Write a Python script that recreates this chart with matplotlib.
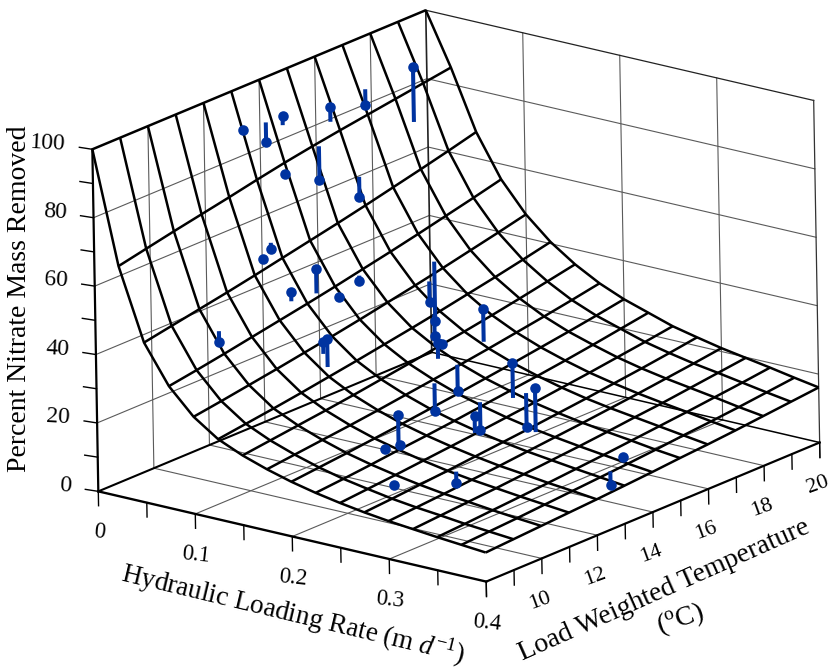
import numpy as np
import matplotlib
matplotlib.use('Agg')
import matplotlib.pyplot as plt
from mpl_toolkits.mplot3d import proj3d

plt.rcParams['font.family'] = ['Liberation Serif', 'DejaVu Serif']
plt.rcParams['mathtext.fontset'] = 'custom'
plt.rcParams['mathtext.rm'] = 'Liberation Serif'
plt.rcParams['mathtext.it'] = 'Liberation Serif:italic'

loading_rate = [0, 0.025, 0.05, 0.075, 0.1, 0.125, 0.15, 0.175, 0.2,
                0.225, 0.25, 0.275, 0.3, 0.325, 0.35, 0.375, 0.4]
temperature = [8, 9, 10, 11, 12, 13, 14, 15, 16, 17, 18, 19, 20]
removal = [
    [100, 100, 100, 100, 100, 100, 100, 100, 100, 100, 100, 100, 100],
    [67.5, 69.2, 70.9, 72.5, 74.1, 75.8, 77.4, 78.8, 80.1, 81.3, 82.5, 83.7, 84.9],
    [46.8, 48.3, 49.8, 51.3, 52.9, 54.6, 56.3, 58, 59.8, 61.7, 63.6, 65.6, 67.7],
    [35.7, 37.0, 38.4, 39.9, 41.4, 42.9, 44.5, 46.2, 47.9, 49.7, 51.6, 53.5, 55.5],
    [28.4, 29.6, 30.9, 32.2, 33.6, 35.0, 36.5, 38.1, 39.7, 41.4, 43.2, 45.0, 46.9],
    [23.5, 24.6, 25.7, 26.9, 28.2, 29.5, 30.9, 32.3, 33.8, 35.4, 37.0, 38.7, 40.5],
    [20.4, 21.4, 22.4, 23.4, 24.5, 25.7, 26.9, 28.2, 29.5, 30.9, 32.4, 34.0, 35.6],
    [18, 18.9, 19.8, 20.7, 21.7, 22.8, 23.9, 25, 26.2, 27.5, 28.8, 30.2, 31.7],
    [16, 16.8, 17.6, 18.5, 19.4, 20.4, 21.4, 22.5, 23.6, 24.8, 26, 27.3, 28.7],
    [14.4, 15.1, 15.9, 16.8, 17.6, 18.5, 19.5, 20.5, 21.5, 22.6, 23.8, 25.1, 26.4],
    [13.1, 13.8, 14.5, 15.3, 16.1, 16.9, 17.8, 18.7, 19.7, 20.7, 21.8, 22.9, 24.1],
    [12, 12.6, 13.3, 14, 14.8, 15.6, 16.4, 17.3, 18.2, 19.2, 20.2, 21.3, 22.5],
    [11.1, 11.7, 12.3, 13, 13.7, 14.5, 15.3, 16.1, 17, 17.9, 18.9, 19.9, 21],
    [10.4, 11, 11.6, 12.2, 12.9, 13.6, 14.3, 15.1, 16, 16.8, 17.8, 18.8, 19.8],
    [9.7, 10.2, 10.8, 11.4, 12, 12.7, 13.4, 14.2, 15, 15.8, 16.7, 17.6, 18.6],
    [9.1, 9.6, 10.1, 10.7, 11.3, 11.9, 12.5, 13.2, 14, 14.7, 15.5, 16.4, 17.3],
    [8.5, 9, 9.5, 10, 10.5, 11.1, 11.7, 12.4, 13, 13.7, 14.5, 15.3, 16.1],
]

# observations: circle = measured, stem runs to the fitted surface
obs_rate = [0.011, 0.012, 0.015, 0.021, 0.017, 0.035, 0.028, 0.026, 0.041, 0.047, 0.044, 0.073, 0.07,
            0.082, 0.077, 0.103, 0.094, 0.125, 0.16, 0.15, 0.167, 0.064, 0.108, 0.118, 0.219, 0.22,
            0.216, 0.26, 0.234, 0.283, 0.236, 0.174, 0.179, 0.249, 0.22, 0.281, 0.374, 0.364]
obs_temp = [13.0, 13.8, 14.3, 15.8, 17.2, 18.3, 13.9, 15.2, 16.1, 12.4, 12.8, 13.4, 12.6, 13.9, 14.8,
            16.4, 16.9, 15.8, 14.7, 15.2, 16.1, 10.2, 12.4, 12.2, 11.2, 11.2, 10.8, 9.6, 14.8, 13.9,
            15.2, 14.9, 13.9, 12.9, 14.1, 11.1, 13.4, 14.2]
obs_fit = [89.4, 89.0, 86.7, 83.0, 87.5, 75.4, 74.7, 78.2, 67.2, 56.1, 59.3, 44.4, 44.6, 42.1, 45.1,
           39.7, 43.2, 33.5, 26.6, 28.5, 27.3, 43.6, 32.4, 29.9, 17.3, 17.3, 17.2, 13.7, 19.7, 16.0,
           19.9, 25.1, 23.4, 16.9, 19.9, 13.8, 12.2, 13.1]
obs_removal = [89.4, 83.4, 89.4, 87.2, 82.8, 91.5, 74.7, 68.3, 61.2, 56.1, 57.4, 51.4, 47.3, 42.1, 43.6,
               33.8, 25.8, 27.1, 31.1, 28.5, 36.9, 40.4, 35.8, 38.0, 25.8, 17.3, 17.2, 13.7, 29.8, 28.8,
               10.0, 17.5, 15.2, 21.9, 11.7, 10.6, 8.1, 13.1]

rate_ticks = [0, 0.05, 0.1, 0.15, 0.2, 0.25, 0.3, 0.35, 0.4]
rate_labels = ['0', '0.1', '0.2', '0.3', '0.4']
temp_ticks = [8, 9, 10, 11, 12, 13, 14, 15, 16, 17, 18, 19, 20]
temp_labels = [10, 12, 14, 16, 18, 20]
z_labels = [0, 20, 40, 60, 80, 100]
z_ticks = [0, 10, 20, 30, 40, 50, 60, 70, 80, 90, 100]

fig = plt.figure(figsize=(8.3, 6.69), dpi=100)
ax = fig.add_axes([49.6 / 830, -33.3 / 669, 791.4 / 830, 791.4 / 669],
                  projection='3d', proj_type='ortho', computed_zorder=False)
ax.set_box_aspect((493.4, 539.2, 360.4))
ax.view_init(elev=18.4, azim=-51.5, roll=1.0)
ax.set_xlim(0, 0.4, view_margin=0)
ax.set_ylim(8, 20, view_margin=0)
ax.set_zlim(0, 100, view_margin=0)
ax.set_xticks([])
ax.set_yticks([])
ax.set_zticks([])
ax.set_axis_off()

wall = dict(color='#5a5a5a', lw=0.8, zorder=1)
# floor grid
for r in [0.1, 0.2, 0.3]:
    ax.plot([r, r], [8, 20], [0, 0], **wall)
    ax.plot([r, r], [20, 20], [0, 100], **wall)
for t in [10, 12, 14, 16, 18]:
    ax.plot([0, 0.4], [t, t], [0, 0], **wall)
    ax.plot([0, 0], [t, t], [0, 100], **wall)
# wall grid
for z in [20, 40, 60, 80]:
    ax.plot([0, 0], [8, 20], [z, z], **wall)
    ax.plot([0, 0.4], [20, 20], [z, z], **wall)
ax.plot([0, 0.4], [20, 20], [100, 100], color='#222222', lw=0.9, zorder=1)
ax.plot([0.4, 0.4], [20, 20], [-4.4, 100], color='#333333', lw=0.9, zorder=1)
ax.plot([0, 0], [20, 20], [0, 100], color='#222222', lw=1.2, zorder=1)

# floor outline and z axis
ax.plot([0, 0.4], [8, 8], [0, 0], color='k', lw=1.7, zorder=2)
ax.plot([0.4, 0.4], [8, 20], [0, 0], color='k', lw=1.6, zorder=2)
ax.plot([0, 0], [8, 20], [0, 0], color='k', lw=1.5, zorder=2)
ax.plot([0, 0.4], [20, 20], [0, 0], color='k', lw=1.1, zorder=2)
ax.plot([0, 0], [8, 8], [0, 100], color='k', lw=1.6, zorder=2)

# ticks
for r in rate_ticks:
    ax.plot([r, r], [8, 8], [0, -4.2], color='k', lw=1.0, zorder=2)
for t in temp_ticks:
    ax.plot([0.4, 0.4], [t, t], [0, -4.4], color='k', lw=1.0, zorder=2)
for z in z_ticks:
    ax.plot([0, -0.0118], [8, 7.944], [z, z], color='k', lw=1.0, zorder=2)

# fitted surface
R, T = np.meshgrid(loading_rate, temperature, indexing='ij')
ax.plot_wireframe(R, T, np.array(removal), rstride=1, cstride=1, color='k', lw=1.8, zorder=3)

# observations
blue = '#0033a0'
for r, t, f, m in zip(obs_rate, obs_temp, obs_fit, obs_removal):
    if f != m:
        ax.plot([r, r], [t, t], [f, m], color=blue, lw=2.9, solid_capstyle='butt', zorder=4)
ax.plot(obs_rate, obs_temp, obs_removal, 'o', color=blue, ms=7.6, mec='none', zorder=5)


def label3d(x, y, z, s, **kw):
    # text2D so the rotation is kept, placed at the projected 3d point
    px, py, _ = proj3d.proj_transform(x, y, z, ax.get_proj())
    ax.text2D(px, py, s, transform=ax.transData, va='center', rotation_mode='anchor', **kw)


for i, s in enumerate(rate_labels):
    label3d(i * 0.1, 8, -12, s, ha='center', rotation=-6, fontsize=16.5)
for t in temp_labels:
    label3d(0.4, t - 0.1, -12, str(t), ha='center', rotation=20, fontsize=16)
for z in z_labels:
    label3d(-0.0258, 7.93, z, str(z), ha='right', rotation=-3, fontsize=17)

# axis titles
fig.text(20 / 830, 1 - 299 / 669, 'Percent Nitrate Mass Removed', fontsize=20,
         rotation=90, ha='center', va='center')
fig.text(293 / 830, 1 - 614 / 669, 'Hydraulic Loading Rate (m $\\mathit{d}^{\\mathit{-1}}$)', fontsize=19.5,
         rotation=-13.5, ha='center', va='center', rotation_mode='anchor')
fig.text(664 / 830, 1 - 590 / 669, 'Load Weighted Temperature', fontsize=20,
         rotation=24, ha='center', va='center', rotation_mode='anchor')
fig.text(680 / 830, 1 - 619 / 669, '($^{\\mathrm{o}}$C)', fontsize=20,
         rotation=18, ha='center', va='center', rotation_mode='anchor')

fig.savefig('out.png', dpi=100)
